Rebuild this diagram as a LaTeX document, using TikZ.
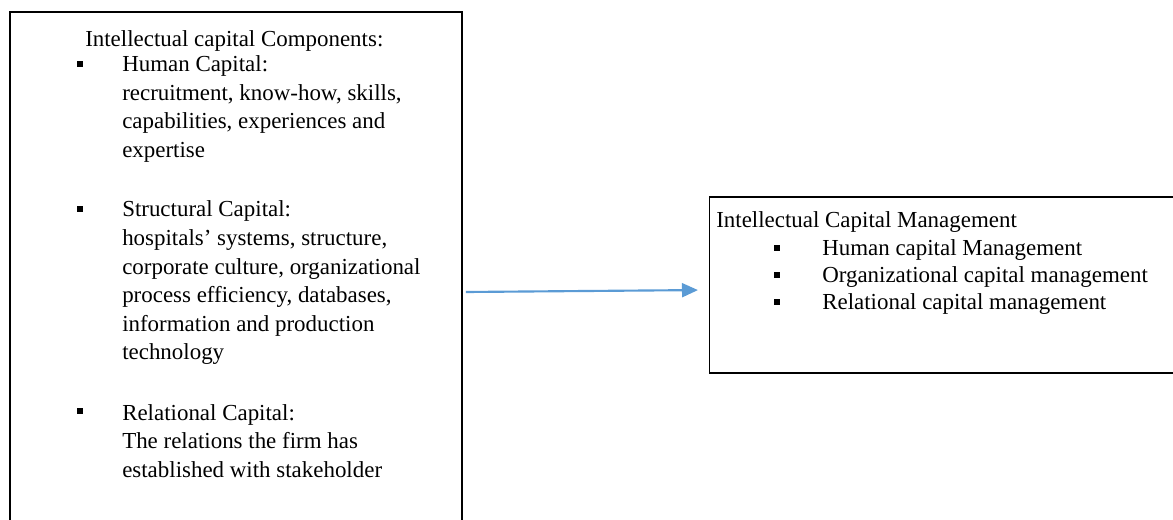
\documentclass[tikz,border=0pt]{standalone}
\usepackage{fontspec}
\setmainfont{Liberation Serif}
\usetikzlibrary{arrows.meta}
\definecolor{arrowblue}{RGB}{91,155,213}

\newcommand{\lines}[1]{\begin{tabular}[t]{@{}l@{}}#1\end{tabular}}

\tikzset{
	box/.style={draw, line width=1.3pt, inner sep=0pt},
	txt/.style={anchor=base west, inner sep=0pt, font=\fontsize{17.2}{21.4}\selectfont},
	rtxt/.style={txt, font=\fontsize{17.2}{20.3}\selectfont},
	flow/.style={draw=arrowblue, line width=1.6pt, -{Triangle[length=12pt, width=10.5pt]}}
}

\begin{document}
\begin{tikzpicture}[x=0.75pt, y=-0.75pt]
	
	\useasboundingbox (0,0) rectangle (1173,520);
	
	\node[box, minimum width=452*0.75pt, minimum height=540*0.75pt] (comp) at (236,282) {};
	\node[box, minimum width=470*0.75pt, minimum height=176*0.75pt] (mgmt) at (944.5,285) {};
	
	\node[txt] (comptitle) at (85,47) {Intellectual capital Components:};
	\node[txt] (human) at (122,71.5) {\lines{Human Capital:\\recruitment, know-how, skills,\\capabilities, experiences and\\expertise}};
	\node[txt] (structural) at (122,217) {\lines{Structural Capital:\\hospitals’ systems, structure,\\corporate culture, organizational\\process efficiency, databases,\\information and production\\technology}};
	\node[txt] (relational) at (122,420) {\lines{Relational Capital:\\The relations the firm has\\established with stakeholder}};
	
	\node[txt] (mgmttitle) at (716,228) {Intellectual Capital Management};
	\node[rtxt] (mgmtitems) at (822,255) {\lines{Human capital Management\\Organizational capital management\\Relational capital management}};
	
	\foreach \y in {64.5,209,411}
	{
		\fill (77,\y-3) rectangle ++(6,6);
	}
	\foreach \y in {248,275,302}
	{
		\fill (774,\y-3) rectangle ++(6,6);
	}
	
	\draw[flow] ([xshift=2.3pt, yshift=-7.5pt]comp.east) -- ([xshift=-8pt, yshift=-3.8pt]mgmt.west);

\end{tikzpicture}
\end{document}
